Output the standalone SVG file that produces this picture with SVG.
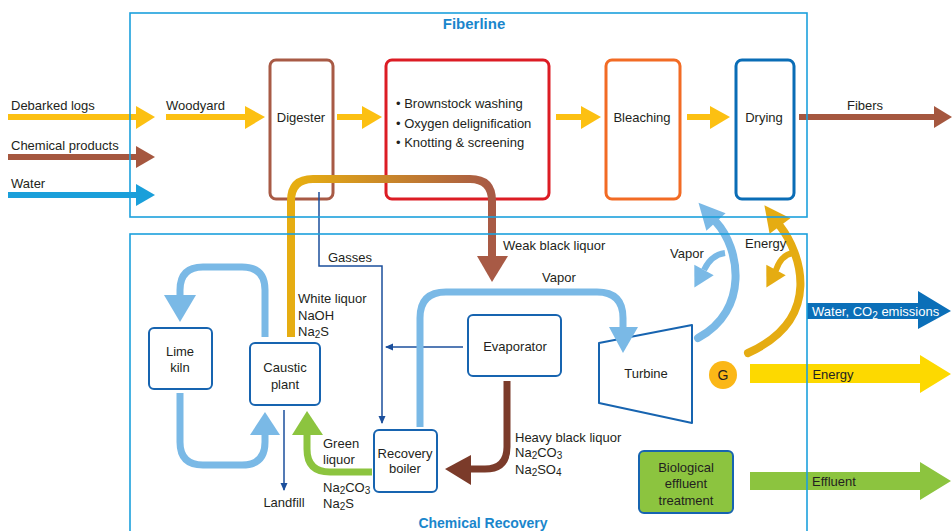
<svg xmlns="http://www.w3.org/2000/svg" width="952" height="531" viewBox="0 0 952 531">
<style>
text{font-family:"Liberation Sans",Arial,sans-serif;font-size:13px;fill:#231f20}
.c{text-anchor:middle}
.title{font-size:15px;font-weight:bold;fill:#1a86cc;text-anchor:middle}
.frame{fill:none;stroke:#1ca0dc;stroke-width:1.6}
.fb{fill:#fff;stroke-width:3}
.cb{fill:#fff;stroke:#1764b0;stroke-width:2}
.thin{fill:none;stroke:#1b4f9c;stroke-width:1.5}
.s6{fill:none;stroke-width:6}
.s7{fill:none;stroke-width:7}
.s8{fill:none;stroke-width:8;stroke-linecap:round}
.lb{stroke:#7ab9e6}
.lbf{fill:#7ab9e6}
.yel{stroke:#fcc012}
.yelf{fill:#fcc012}
.sub{font-size:10px}
</style>
<defs>
<marker id="ah" markerWidth="8" markerHeight="8" refX="7" refY="4" orient="auto" markerUnits="userSpaceOnUse">
<path d="M0,0.5 L8,4 L0,7.5 Z" fill="#1b4f9c"/>
</marker>
<linearGradient id="wl" gradientUnits="userSpaceOnUse" x1="300" y1="0" x2="490" y2="0">
<stop offset="0" stop-color="#e6ad12"/>
<stop offset="1" stop-color="#a85a45"/>
</linearGradient>
</defs>

<!-- Fiberline nodes -->
<g id="digester"><rect class="fb" x="270" y="60" width="63" height="139" rx="6" stroke="#a85a45"/><text class="c" x="301" y="122">Digester</text></g>
<g id="washing"><rect class="fb" x="386" y="60" width="163" height="139" rx="6" stroke="#dc1c24"/>
<text x="396" y="108">• Brownstock washing</text><text x="396" y="128">• Oxygen delignification</text><text x="396" y="147">• Knotting &amp; screening</text></g>
<g id="bleaching"><rect class="fb" x="606" y="60" width="74" height="139" rx="6" stroke="#f26b24"/><text class="c" x="642" y="122">Bleaching</text></g>
<g id="drying"><rect class="fb" x="736" y="60" width="58" height="139" rx="6" stroke="#0a6db6"/><text class="c" x="764" y="122">Drying</text></g>

<!-- Chemical recovery nodes -->
<g id="lime-kiln"><rect class="cb" x="149" y="328" width="63" height="61" rx="5"/><text class="c" x="180" y="356">Lime</text><text class="c" x="180" y="372">kiln</text></g>
<g id="caustic-plant"><rect class="cb" x="250" y="343" width="70" height="62" rx="5"/><text class="c" x="285" y="372">Caustic</text><text class="c" x="285" y="389">plant</text></g>
<g id="recovery-boiler"><rect class="cb" x="374" y="430" width="63" height="62" rx="5"/><text class="c" x="405" y="458">Recovery</text><text class="c" x="405" y="473">boiler</text></g>
<g id="evaporator"><rect class="cb" x="468" y="315" width="93" height="61" rx="5"/><text class="c" x="515" y="351">Evaporator</text></g>
<g id="turbine"><path class="cb" d="M599,343 L692,325 L692,423 L599,403 Z" stroke-linejoin="round"/><text class="c" x="646" y="378">Turbine</text></g>
<g id="generator"><circle cx="723" cy="375" r="14" fill="#fbb717"/><text class="c" x="723" y="380" style="font-size:14px">G</text></g>
<g id="bio-treatment"><rect x="639" y="451" width="94" height="62" rx="5" fill="#8cc43f" stroke="#1764b0" stroke-width="2"/>
<text class="c" x="686" y="472">Biological</text><text class="c" x="686" y="488">effluent</text><text class="c" x="686" y="505">treatment</text></g>

<!-- Connectors -->
<g id="connectors">
<!-- inputs -->
<path class="s6 yel" d="M8,117 H137"/><polygon class="yelf" points="136,106 155,117 136,129"/>
<path class="s6" stroke="#a5573f" d="M8,157 H137"/><polygon fill="#a5573f" points="136,146 155,157 136,168"/>
<path class="s6" stroke="#1a9fda" d="M8,195 H137"/><polygon fill="#1a9fda" points="136,184 155,195 136,206"/>
<!-- fiberline flow -->
<path class="s6 yel" d="M166,117 H246"/><polygon class="yelf" points="245,106 265,117 245,129"/>
<path class="s6 yel" d="M337,117 H363"/><polygon class="yelf" points="362,106 382,117 362,129"/>
<path class="s6 yel" d="M556,117 H582"/><polygon class="yelf" points="581,106 601,117 581,129"/>
<path class="s6 yel" d="M687,117 H711"/><polygon class="yelf" points="710,106 730,117 710,129"/>
<path class="s6" stroke="#a5573f" d="M799,117 H935"/><polygon fill="#a5573f" points="934,106 952,117 934,128"/>
<!-- white / weak black liquor -->
<path fill="none" stroke="url(#wl)" stroke-width="8" d="M291,337 V201 Q291,179 313,179 H470 Q492,179 492,201 V257"/>
<polygon fill="#a85a45" points="477,256 508,256 492,282"/>
<!-- gasses -->
<path class="thin" d="M319,192 V266 H382 V423" marker-end="url(#ah)"/>
<path class="thin" d="M463,347 H386" marker-end="url(#ah)"/>
<path class="thin" d="M284,410 V490" marker-end="url(#ah)"/>
<!-- lime loops -->
<path class="s7 lb" d="M265,337 V290 Q265,267 242,267 H203 Q180,267 180,290 V296"/>
<polygon class="lbf" points="164,295 196,295 180,322"/>
<path class="s7 lb" d="M180,393 V442 Q180,465 203,465 H242 Q265,465 265,442 V434"/>
<polygon class="lbf" points="250,435 280,435 265,412"/>
<!-- green liquor -->
<path class="s7" stroke="#8cc43f" d="M372,472 H330 Q307,472 307,449 V434"/>
<polygon fill="#8cc43f" points="292,435 323,435 307,411"/>
<!-- vapor to turbine -->
<path class="s7 lb" d="M420,427 V318 Q420,292 446,292 H597 Q623,292 623,318 V328"/>
<polygon class="lbf" points="609,327 638,327 623,353"/>
<!-- heavy black liquor -->
<path class="s7" stroke="#7b3b2a" d="M507,381 V447 Q507,469 485,469 H470"/>
<polygon fill="#7b3b2a" points="471,455 471,485 445,469"/>
<!-- turbine vapor arcs -->
<path class="s8 lb" d="M698,338 C750,310 740,248 716,222"/>
<polygon class="lbf" points="698.5,202.8 725.6,213.2 706.4,230.8"/>
<path class="s6 lb" d="M725,253 Q711,255 704,270"/>
<polygon class="lbf" points="694.4,287.6 713.7,275.3 694.3,264.7"/>
<!-- energy arcs -->
<path class="s8" stroke="#e5ac12" d="M748,353 C825,318 800,252 780,226"/>
<polygon fill="#e5ac12" points="764.4,205.2 790.4,218.2 769.6,233.8"/>
<path class="s6" stroke="#e5ac12" stroke-linecap="round" d="M793,253 Q781,255 776,270"/>
<polygon fill="#e5ac12" points="766.4,287.6 785.7,275.3 766.3,264.7"/>
<!-- outputs -->
<path fill="#0b6fb8" d="M807,303 H918 V291 L951,311 L918,329 V319 H807 Z"/>
<path fill="#fdd900" d="M750,364 H920 V355 L951,374 L920,393 V383 H750 Z"/>
<path fill="#8cc43f" d="M750,472 H920 V462 L951,481 L920,500 V490 H750 Z"/>
</g>

<!-- Labels -->
<g id="labels">
<text x="11" y="110">Debarked logs</text>
<text x="11" y="150">Chemical products</text>
<text x="11" y="188">Water</text>
<text x="166" y="110">Woodyard</text>
<text x="847" y="110">Fibers</text>
<text x="328" y="262">Gasses</text>
<text x="503" y="250">Weak black liquor</text>
<text x="298" y="303">White liquor</text>
<text x="298" y="320">NaOH</text>
<text x="298" y="336">Na<tspan class="sub" dy="2">2</tspan><tspan dy="-2">S</tspan></text>
<text x="542" y="282">Vapor</text>
<text x="670" y="258">Vapor</text>
<text x="745" y="248">Energy</text>
<text x="323" y="448">Green</text>
<text x="323" y="464">liquor</text>
<text x="323" y="492">Na<tspan class="sub" dy="2">2</tspan><tspan dy="-2">CO</tspan><tspan class="sub" dy="2">3</tspan></text>
<text x="323" y="508">Na<tspan class="sub" dy="2">2</tspan><tspan dy="-2">S</tspan></text>
<text class="c" x="284" y="507">Landfill</text>
<text x="515" y="442">Heavy black liquor</text>
<text x="515" y="457">Na<tspan class="sub" dy="2">2</tspan><tspan dy="-2">CO</tspan><tspan class="sub" dy="2">3</tspan></text>
<text x="515" y="474">Na<tspan class="sub" dy="2">2</tspan><tspan dy="-2">SO</tspan><tspan class="sub" dy="2">4</tspan></text>
<text x="812" y="316" style="fill:#fff">Water, CO<tspan class="sub" dy="3" style="fill:#fff">2</tspan><tspan dy="-3" style="fill:#fff"> emissions</tspan></text>
<text class="c" x="833" y="379">Energy</text>
<text class="c" x="834" y="486">Effluent</text>
</g>

<!-- Containers -->
<g id="fiberline"><rect class="frame" x="130" y="13" width="677" height="204"/><text class="title" x="474" y="29">Fiberline</text></g>
<g id="chemical-recovery"><rect class="frame" x="130" y="234" width="677" height="310"/><text class="title" x="483" y="528" style="font-size:14px">Chemical Recovery</text></g>
</svg>
